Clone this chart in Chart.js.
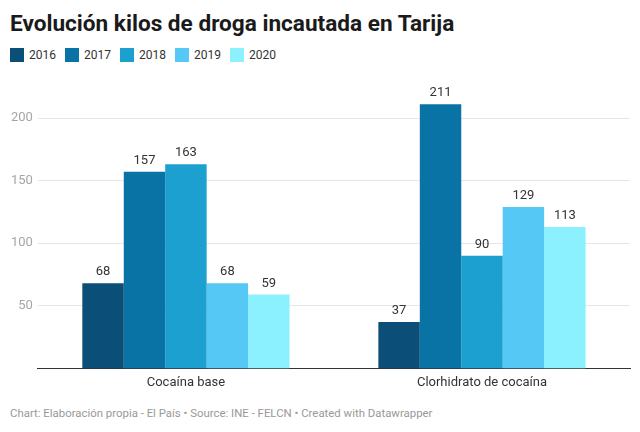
<!DOCTYPE html>
<html>
<head>
<meta charset="utf-8">
<script src="https://cdn.jsdelivr.net/npm/chart.js@4"></script>
<style>
  body { margin: 0; background: #fff; font-family: Roboto, sans-serif; }
  #wrap { position: relative; width: 640px; height: 432px; overflow: hidden; }
  #title { position: absolute; left: 10px; top: 13px; font-size: 22.6px; line-height: 22px; font-weight: bold; color: #1a1a1a; white-space: nowrap; }
  #legend { position: absolute; left: 10px; top: 48px; height: 14px; display: flex; font-size: 12px; color: #333; }
  #legend span.item { display: flex; align-items: center; margin-right: 9px; line-height: 14px; }
  #legend span.sw { width: 14px; height: 14px; margin-right: 5px; display: inline-block; }
  #chartbox { position: absolute; left: 0; top: 70px; width: 640px; height: 330px; }
  #footer { position: absolute; left: 10px; top: 405px; font-size: 11.4px; line-height: 16px; color: #999; white-space: nowrap; }
</style>
</head>
<body>
<div id="wrap">
  <div id="title">Evolución kilos de droga incautada en Tarija</div>
  <div id="legend"></div>
  <div id="chartbox"><canvas id="graph"></canvas></div>
  <div id="footer">Chart: Elaboración propia - El País • Source: INE - FELCN • Created with Datawrapper</div>
</div>
<script>
const categories = ['Cocaína base', 'Clorhidrato de cocaína'];
const years = ['2016', '2017', '2018', '2019', '2020'];
const values2016 = [68, 37];
const values2017 = [157, 211];
const values2018 = [163, 90];
const values2019 = [68, 129];
const values2020 = [59, 113];
const yTicks = [50, 100, 150, 200];

const colors = ['#0b4e77', '#0873a4', '#1ba0d0', '#56c8f5', '#8cf1fe'];
const series = [values2016, values2017, values2018, values2019, values2020];

// legend as html
const legend = document.getElementById('legend');
years.forEach(function (y, i) {
  const item = document.createElement('span');
  item.className = 'item';
  item.innerHTML = '<span class="sw" style="background:' + colors[i] + '"></span>' + y;
  legend.appendChild(item);
});

// value labels above bars
const valueLabels = {
  id: 'valueLabels',
  afterDatasetsDraw(chart) {
    const ctx = chart.ctx;
    ctx.save();
    ctx.font = '13px Roboto';
    ctx.fillStyle = '#333';
    ctx.textAlign = 'center';
    ctx.textBaseline = 'alphabetic';
    chart.data.datasets.forEach(function (ds, i) {
      chart.getDatasetMeta(i).data.forEach(function (bar, j) {
        ctx.fillText(ds.data[j], bar.x, bar.y - 8);
      });
    });
    ctx.restore();
  }
};

Chart.defaults.font.family = 'Roboto';

const data = {
  labels: categories,
  datasets: years.map(function (y, i) {
    return {
      label: y,
      data: series[i],
      backgroundColor: colors[i],
      borderWidth: 0,
      categoryPercentage: 0.7,
      barPercentage: 1.0
    };
  })
};

const config = {
  type: 'bar',
  data: data,
  options: {
    responsive: true,
    maintainAspectRatio: false,
    animation: false,
    layout: { padding: { left: 6, right: 10, top: 20, bottom: 2 } },
    plugins: {
      legend: { display: false },
      tooltip: { enabled: false }
    },
    scales: {
      x: {
        grid: { display: false, drawTicks: false },
        border: { display: true, color: '#333', width: 1 },
        ticks: { color: '#333', font: { size: 13 }, padding: 7 }
      },
      y: {
        min: 0,
        max: 222.4,
        grid: { color: '#e6e6e6', drawTicks: false },
        border: { display: false },
        ticks: { color: '#a6a6a6', font: { size: 13 }, padding: 5 },
        afterBuildTicks: function (axis) {
          axis.ticks = yTicks.map(function (v) { return { value: v }; });
        }
      }
    }
  },
  plugins: [valueLabels]
};

const myChart = new Chart(document.getElementById('graph'), config);
</script>
</body>
</html>
